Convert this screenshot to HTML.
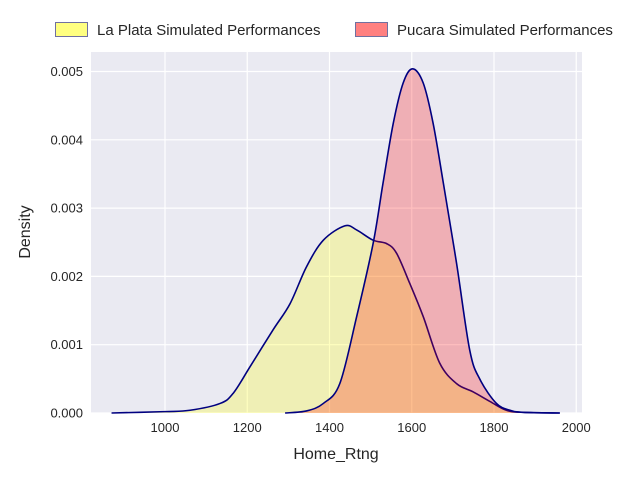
<!DOCTYPE html>
<html><head><meta charset="utf-8"><style>
body{margin:0;background:#fff;}
svg text{font-family:"Liberation Sans",Arial,sans-serif;fill:#262626;}
</style></head><body>
<svg id="chart" width="640" height="480" xmlns="http://www.w3.org/2000/svg">
<rect x="91" y="52" width="491" height="361" fill="#eaeaf2"/>
<g id="grid"></g>
<g id="series"></g>
<g id="ticks"></g>
<text x="336" y="459" font-size="16" text-anchor="middle">Home_Rtng</text>
<text transform="translate(30,232) rotate(-90)" font-size="16" text-anchor="middle">Density</text>
<g>
<g>
<rect x="55.5" y="22.5" width="32" height="14" fill="#ffff80" stroke="#7070a0" stroke-width="1"/>
<text x="97" y="35" font-size="15">La Plata Simulated Performances</text></g>
<g>
<rect x="355.5" y="22.5" width="32" height="14" fill="#ff8080" stroke="#7070a0" stroke-width="1"/>
<text x="397" y="35" font-size="15">Pucara Simulated Performances</text></g>
</g>
</svg>
<script>
const xTicks=[1000,1200,1400,1600,1800,2000];
const yTicks=[0,0.001,0.002,0.003,0.004,0.005];
const yTickLabels=["0.000","0.001","0.002","0.003","0.004","0.005"];
const laPlataX=[870,1000,1061,1134,1166,1207,1263,1304,1344,1385,1437,1466,1506,1539,1563,1595,1628,1668,1709,1749,1790,1830,1871,1960];
const laPlataY=[0,0.00002,0.00004,0.00014,0.00029,0.00068,0.00122,0.0016,0.00214,0.00253,0.00274,0.00268,0.00253,0.00248,0.00234,0.0019,0.00141,0.00073,0.00043,0.00031,0.00017,0.00004,0.00001,0];
const pucaraX=[1292,1344,1385,1425,1466,1506,1530,1555,1579,1602,1628,1652,1677,1709,1741,1766,1806,1839,1871,1960];
const pucaraY=[0,0.00003,0.00014,0.00043,0.00141,0.00248,0.00336,0.00424,0.00483,0.00504,0.00483,0.00424,0.00336,0.00219,0.00092,0.00049,0.00014,0.00004,0.00001,0];
const X=v=>165+(v-1000)*0.41125;
const Y=v=>413-v*68300;
const NS="http://www.w3.org/2000/svg";
function mk(tag,attrs,parent){const e=document.createElementNS(NS,tag);for(const k in attrs)e.setAttribute(k,attrs[k]);parent.appendChild(e);return e;}
const grid=document.getElementById('grid'),ticks=document.getElementById('ticks'),series=document.getElementById('series');
xTicks.forEach(t=>{
 const l=mk('line',{x1:X(t),x2:X(t),y1:52,y2:413,stroke:'#fff','stroke-width':1.2},grid);
 
 
 const tx=mk('text',{x:X(t),y:432,'font-size':13,'text-anchor':'middle'},ticks);tx.textContent=t;
 
 
});
yTicks.forEach((t,i)=>{
 const l=mk('line',{x1:91,x2:582,y1:Y(t),y2:Y(t),stroke:'#fff','stroke-width':1.2},grid);
 
 
 const tx=mk('text',{x:83,y:Y(t)+4.5,'font-size':13,'text-anchor':'end'},ticks);tx.textContent=yTickLabels[i];
 
 
});
function smooth(xs,ys){
 const p=xs.map((x,i)=>[X(x),Y(ys[i])]);
 let d=`M${p[0][0]},${p[0][1]}`;
 for(let i=0;i<p.length-1;i++){
  const p0=p[Math.max(0,i-1)],p1=p[i],p2=p[i+1],p3=p[Math.min(p.length-1,i+2)];
  let c1y=p1[1]+(p2[1]-p0[1])/6,c2y=p2[1]-(p3[1]-p1[1])/6;
  c1y=Math.min(c1y,413);c2y=Math.min(c2y,413);
  d+=` C${p1[0]+(p2[0]-p0[0])/6},${c1y} ${p2[0]-(p3[0]-p1[0])/6},${c2y} ${p2[0]},${p2[1]}`;
 }
 return d;
}
function draw(xs,ys,color,name){
 const line=smooth(xs,ys);
 const f=mk('path',{d:line+` L${X(xs[xs.length-1])},413 L${X(xs[0])},413 Z`,fill:color,'fill-opacity':0.25},series);
 
 
 const l=mk('path',{d:line,fill:'none',stroke:'#000080','stroke-width':1.6},series);
 
 
}
draw(laPlataX,laPlataY,'#ffff00','la-plata-kde');
draw(pucaraX,pucaraY,'#ff0000','pucara-kde');
</script>
</body></html>
